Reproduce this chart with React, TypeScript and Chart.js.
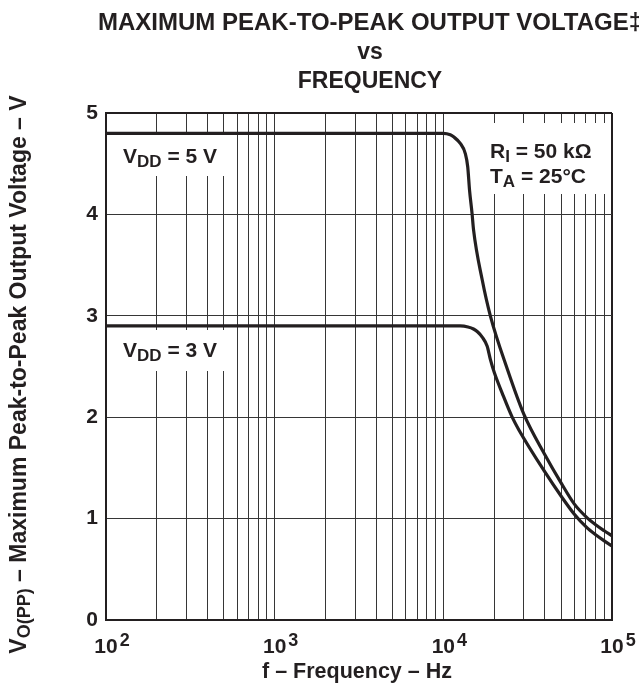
import React, { useEffect, useRef } from "react";
import { Chart, registerables } from "chart.js";

Chart.register(...registerables);

// ---------- data ----------
const frequencyGrid = [
  100, 200, 300, 400, 500, 600, 700, 800, 900,
  1000, 2000, 3000, 4000, 5000, 6000, 7000, 8000, 9000,
  10000, 20000, 30000, 40000, 50000, 60000, 70000, 80000, 90000,
  100000,
];
const voltageTicks = [0, 1, 2, 3, 4, 5];
const decadeValues = [100, 1000, 10000, 100000];
const decadeExponents = ["2", "3", "4", "5"];

const vdd5Freq = [100, 1000, 10000, 11000, 11500, 12600, 13500, 13950, 14300, 14800, 15100, 17000, 19000, 24000, 30000, 40000, 50000, 60000, 70000, 80000, 90000, 100000];
const vdd5Volt = [4.8, 4.8, 4.8, 4.785, 4.765, 4.7, 4.6, 4.47, 4.24, 4.01, 3.85, 3.355, 3.0, 2.47, 2.03, 1.63, 1.35, 1.14, 1.02, 0.94, 0.88, 0.83];

const vdd3Freq = [100, 1000, 10000, 12600, 14000, 15100, 16000, 17000, 18200, 19000, 20100, 22300, 25600, 28000, 40000, 50000, 60000, 70000, 80000, 90000, 100000];
const vdd3Volt = [2.9, 2.9, 2.9, 2.9, 2.89, 2.87, 2.84, 2.79, 2.7, 2.57, 2.435, 2.24, 2.0, 1.877, 1.46, 1.22, 1.04, 0.92, 0.84, 0.78, 0.73];

const titleLines = ["MAXIMUM PEAK-TO-PEAK OUTPUT VOLTAGE\u2021", "vs", "FREQUENCY"];
const xTitle = "f \u2013 Frequency \u2013 Hz";

// ---------- styles ----------
const FONT = "'Liberation Sans', Arial, Helvetica, sans-serif";
const INK = "#231f20";
const GRID = "#363636";

type Part = { t: string; s: number; dy?: number };

function partsWidth(ctx: CanvasRenderingContext2D, parts: Part[]) {
  let w = 0;
  for (const p of parts) {
    ctx.font = `bold ${p.s}px ${FONT}`;
    w += ctx.measureText(p.t).width;
  }
  return w;
}

function drawParts(ctx: CanvasRenderingContext2D, parts: Part[], x: number, y: number) {
  let cx = x;
  ctx.textAlign = "left";
  ctx.textBaseline = "alphabetic";
  for (const p of parts) {
    ctx.font = `bold ${p.s}px ${FONT}`;
    ctx.fillText(p.t, cx, y + (p.dy || 0));
    cx += ctx.measureText(p.t).width;
  }
}

const boxesPlugin = {
  id: "whiteBoxes",
  beforeDatasetsDraw(chart: any) {
    const ctx: CanvasRenderingContext2D = chart.ctx;
    const a = chart.chartArea;
    ctx.save();
    ctx.fillStyle = "#ffffff";
    ctx.fillRect(a.left + 1, 135, 125, 41);
    ctx.fillRect(a.left + 1, 330, 126, 41);
    ctx.fillRect(480, a.top + 10, a.right - 2 - 480, 71);
    ctx.restore();
  },
};

const textPlugin = {
  id: "texts",
  afterDraw(chart: any) {
    const ctx: CanvasRenderingContext2D = chart.ctx;
    const a = chart.chartArea;
    const xs = chart.scales.x;
    ctx.save();
    ctx.fillStyle = INK;

    // title
    ctx.textAlign = "center";
    ctx.textBaseline = "alphabetic";
    const tBase = [29.5, 59, 88];
    const tSize = [24, 23, 23];
    titleLines.forEach((l, i) => {
      ctx.font = `bold ${tSize[i]}px ${FONT}`;
      ctx.fillText(l, 370, tBase[i]);
    });

    // x tick labels with superscripts
    decadeValues.forEach((v, i) => {
      const px = xs.getPixelForValue(v);
      ctx.font = `bold 21px ${FONT}`;
      ctx.textAlign = "center";
      const w = ctx.measureText("10").width;
      ctx.fillText("10", px, a.bottom + 33);
      ctx.font = `bold 18px ${FONT}`;
      ctx.textAlign = "left";
      ctx.fillText(decadeExponents[i], px + w / 2 + 2, a.bottom + 26);
    });

    // x title
    ctx.font = `bold 21.5px ${FONT}`;
    ctx.textAlign = "center";
    ctx.fillText(xTitle, (a.left + a.right) / 2 - 2, a.bottom + 58);

    // y title (rotated)
    const yParts: Part[] = [
      { t: "V", s: 23 },
      { t: "O(PP)", s: 18, dy: 4 },
      { t: " \u2013 Maximum Peak-to-Peak Output Voltage \u2013 V", s: 23 },
    ];
    ctx.save();
    ctx.translate(26, (a.top + a.bottom) / 2 + 8);
    ctx.rotate(-Math.PI / 2);
    const yw = partsWidth(ctx, yParts);
    drawParts(ctx, yParts, -yw / 2, 0);
    ctx.restore();

    // annotations
    drawParts(ctx, [{ t: "V", s: 21 }, { t: "DD", s: 17, dy: 4 }, { t: " = 5 V", s: 21 }], a.left + 17, 162.7);
    drawParts(ctx, [{ t: "V", s: 21 }, { t: "DD", s: 17, dy: 4 }, { t: " = 3 V", s: 21 }], a.left + 17, 357.3);
    drawParts(ctx, [{ t: "R", s: 21 }, { t: "I", s: 17, dy: 4 }, { t: " = 50 k\u03A9", s: 21 }], 490, 158.3);
    drawParts(ctx, [{ t: "T", s: 21 }, { t: "A", s: 17, dy: 4 }, { t: " = 25\u00B0C", s: 21 }], 490, 182.7);

    ctx.restore();
  },
};

export default function App() {
  const ref = useRef<HTMLCanvasElement>(null);

  useEffect(() => {
    const canvas = ref.current;
    if (!canvas) return;
    const chart = new Chart(canvas, {
      type: "line",
      data: {
        datasets: [
          {
            label: "VDD = 5 V",
            data: vdd5Freq.map((f, i) => ({ x: f, y: vdd5Volt[i] })),
            borderColor: INK,
            borderWidth: 3.2,
            pointRadius: 0,
            cubicInterpolationMode: "monotone",
            fill: false,
          },
          {
            label: "VDD = 3 V",
            data: vdd3Freq.map((f, i) => ({ x: f, y: vdd3Volt[i] })),
            borderColor: INK,
            borderWidth: 3.2,
            pointRadius: 0,
            cubicInterpolationMode: "monotone",
            fill: false,
          },
        ],
      },
      options: {
        responsive: false,
        animation: false,
        devicePixelRatio: 1,
        events: [],
        layout: { padding: { top: 113, right: 27, left: 0, bottom: 0 } },
        plugins: {
          legend: { display: false },
          title: { display: false },
          tooltip: { enabled: false },
        },
        scales: {
          x: {
            type: "logarithmic",
            min: 100,
            max: 100000,
            afterBuildTicks: (s: any) => {
              s.ticks = frequencyGrid.map((v) => ({ value: v }));
            },
            afterFit: (s: any) => {
              s.height = 65;
            },
            ticks: { display: false },
            grid: {
              color: (c: any) => (c.tick && c.tick.value === 100000 ? INK : GRID),
              lineWidth: (c: any) => (c.tick && c.tick.value === 100000 ? 2 : 1),
              drawTicks: false,
            },
            border: { color: INK, width: 2 },
          },
          y: {
            type: "linear",
            min: 0,
            max: 5,
            afterBuildTicks: (s: any) => {
              s.ticks = voltageTicks.map((v) => ({ value: v }));
            },
            afterFit: (s: any) => {
              s.width = 106;
            },
            ticks: {
              font: { family: FONT, size: 21, weight: "bold" },
              color: INK,
              padding: 8,
            },
            grid: {
              color: (c: any) => (c.tick && c.tick.value === 5 ? INK : GRID),
              lineWidth: (c: any) => (c.tick && c.tick.value === 5 ? 2 : 1),
              drawTicks: false,
            },
            border: { color: INK, width: 2 },
          },
        },
      },
      plugins: [boxesPlugin, textPlugin],
    } as any);
    return () => chart.destroy();
  }, []);

  return (
    <canvas
      ref={ref}
      width={639}
      height={685}
      style={{ position: "absolute", left: 0, top: 0, width: 639, height: 685, display: "block" }}
    />
  );
}
